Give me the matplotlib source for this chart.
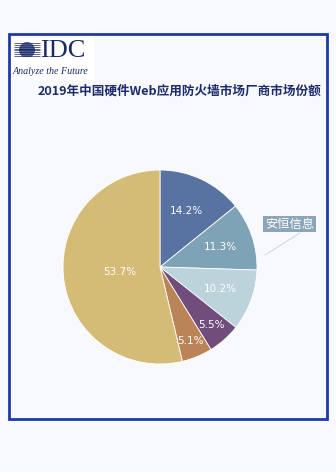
import numpy as np
import matplotlib.pyplot as plt
from matplotlib.patches import Rectangle, Circle

plt.rcParams['font.family'] = ['Noto Sans CJK SC', 'DejaVu Sans']

title = "2019年中国硬件Web应用防火墙市场厂商市场份额"
shares = [14.2, 11.3, 10.2, 5.5, 5.1, 53.7]
colors = ['#5872a1', '#7fa3b6', '#bcd3dc', '#714d7b', '#bb8358', '#d4bc76']
label_r = [0.64, 0.66, 0.66, 0.80, 0.83, 0.42]
callout_name = "安恒信息"
callout_idx = 1

W, H = 336, 472
bg = '#f8f9fc'
fig = plt.figure(figsize=(W / 100, H / 100), dpi=100, facecolor=bg)


def fx(px):
    return px / W


def fy(py):
    return 1 - py / H


# frame
fig.patches.append(Rectangle((fx(9), fy(419)), fx(318), (419 - 34) / H,
                             transform=fig.transFigure, fill=False,
                             edgecolor='#1f39a8', linewidth=2.0))

# logo
lax = fig.add_axes([fx(10), fy(80), fx(84), (80 - 37) / H])
lax.set_xlim(0, 84)
lax.set_ylim(43, 0)
lax.axis('off')
lax.add_patch(Rectangle((0, 0), 84, 43, facecolor='white', edgecolor='none'))
navy = '#1b2a6b'
globe = Circle((17, 13), 8, facecolor='none', edgecolor='none')
lax.add_patch(globe)
for yy in np.arange(5.8, 21, 1.9):
    ln, = lax.plot([4, 30], [yy, yy], color=navy, lw=0.5, solid_capstyle='butt')
    bar, = lax.plot([9, 25], [yy, yy], color=navy, lw=1.1, solid_capstyle='butt')
    bar.set_clip_path(globe)
lax.text(30, 14, "IDC", fontsize=19, family='Liberation Serif', color=navy,
         va='center', ha='left')
lax.text(3, 35, "Analyze the Future", fontsize=7.2, family='Liberation Serif',
         style='italic', color=navy, va='center', ha='left')

# title
fig.text(fx(179), fy(91), title, fontsize=9.1, fontweight='bold',
         color='#1e2c6c', ha='center', va='center')

# pie
cx, cy, R = 160, 267, 97
ax = fig.add_axes([fx(cx - R), fy(cy + R), fx(2 * R), 2 * R / H])
wedges, _ = ax.pie(shares, colors=colors, startangle=90, counterclock=False,
                   radius=1, wedgeprops=dict(linewidth=0.6, edgecolor='white'))
ax.set_xlim(-1, 1)
ax.set_ylim(-1, 1)
ax.axis('off')
for w, s, r in zip(wedges, shares, label_r):
    ang = np.deg2rad((w.theta1 + w.theta2) / 2)
    ax.text(r * np.cos(ang), r * np.sin(ang), f"{s}%", color='white',
            fontsize=7.5, ha='center', va='center', family='DejaVu Sans')

# callout
fig.lines.append(plt.Line2D([fx(265), fx(300)], [fy(255), fy(233)],
                            transform=fig.transFigure, color='#c8ccd4', lw=0.6))
fig.text(fx(289.5), fy(224), callout_name, fontsize=8.8, color='white',
         ha='center', va='center',
         bbox=dict(boxstyle='square,pad=0.15', facecolor='#8ba6b6',
                   edgecolor='none'))

fig.savefig('out.png', dpi=100, facecolor=bg)
